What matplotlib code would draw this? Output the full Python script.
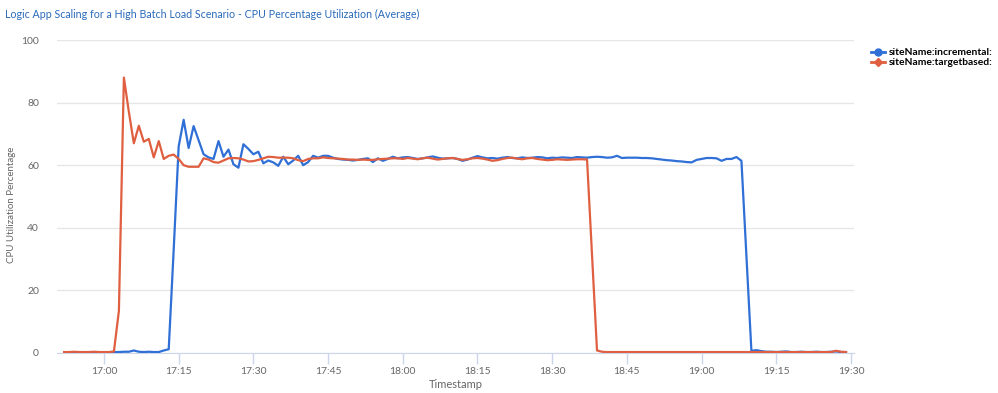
import numpy as np
import pandas as pd
import matplotlib
matplotlib.use("Agg")
import matplotlib.pyplot as plt
import matplotlib.dates as mdates
from matplotlib.lines import Line2D

# =============================================================================
# DATOS (una muestra por minuto, desde las 16:52)
# =============================================================================
INICIO = "2023-01-01 16:52"

incremental = [
    0.2, 0.2, 0.2, 0.2, 0.2, 0.2, 0.2, 0.2, 0.2, 0.2,          # 16:52-17:01
    0.3, 0.3, 0.4, 0.4, 0.8, 0.4, 0.3, 0.4, 0.3, 0.3, 0.8,     # 17:02-17:12
    1.2, 33.0, 66.0, 74.5, 65.5, 72.5, 68.0, 63.5, 62.5, 62.0, # 17:13-17:22
    67.7, 62.7, 65.0, 60.3, 59.2, 66.7, 65.2, 63.5, 64.3, 60.6,
    61.5, 60.9, 59.8, 62.7, 60.3, 61.5, 63.0, 60.0, 61.0, 63.0,
    62.4, 63.0, 63.0, 62.4, 62.0, 61.8, 61.7, 61.5, 61.7, 62.0,
    62.2, 61.0, 62.2, 61.4, 62.0, 62.7, 62.2,                  # ...-17:59
    62.5, 62.6, 62.3, 62.0, 62.2, 62.5, 62.8, 62.4, 62.1, 62.2,
    62.3, 62.0, 61.4, 61.8, 62.4, 62.9, 62.5, 62.2, 62.3, 62.1,
    62.4, 62.6, 62.3, 62.2, 62.5, 62.3, 62.4, 62.6, 62.5, 62.2,
    62.4, 62.3, 62.5, 62.4, 62.3, 62.6, 62.5, 62.4,            # 18:00-18:37
    62.6, 62.7, 62.6, 62.4, 62.5, 63.0, 62.3, 62.4, 62.4, 62.4,
    62.3, 62.3, 62.2, 62.0, 61.8, 61.6, 61.5, 61.3, 61.2, 61.0,
    60.9, 61.7, 62.0, 62.3, 62.3, 62.2, 61.4, 62.0, 62.0, 62.6,
    61.4,                                                      # 18:38-19:08
    31.0, 0.7, 0.9, 0.6, 0.4, 0.4, 0.3, 0.4, 0.5, 0.3,
    0.3, 0.4, 0.3, 0.3, 0.4, 0.3, 0.3, 0.4, 0.5, 0.3, 0.3,    # 19:09-19:29
]

targetbased = [
    0.3, 0.3, 0.4, 0.3, 0.3, 0.3, 0.4, 0.3, 0.3, 0.3,          # 16:52-17:01
    0.5, 13.5, 88.0, 77.0, 67.0, 72.6, 67.5, 68.4, 62.5, 67.7, # 17:02-17:11
    62.0, 63.0, 63.4, 62.0, 60.0, 59.5, 59.5, 59.5, 62.2, 61.8,
    61.0, 60.8, 61.5, 62.2, 62.3, 62.2, 61.8, 61.2, 61.3, 61.7,
    62.2, 62.7, 62.6, 62.4, 62.4, 62.4, 62.2, 61.6, 61.3, 62.0,
    62.2, 62.2, 62.5, 62.3, 62.2, 62.1, 62.0, 61.8, 61.8, 61.7,
    61.8, 61.7, 61.7, 61.9, 62.0, 62.1, 62.2, 62.2,            # ...-17:59
    62.0, 62.3, 62.1, 61.9, 62.2, 62.4, 62.1, 61.8, 62.0, 62.2,
    62.3, 62.0, 61.7, 61.9, 62.2, 62.3, 62.1, 61.8, 61.4, 61.6,
    62.0, 62.3, 62.4, 62.1, 61.9, 62.2, 62.3, 62.0, 61.8, 61.6,
    61.7, 61.9, 61.8, 61.7, 61.8, 61.9, 61.9, 61.8,            # 18:00-18:37
    31.0, 0.8,                                                 # 18:38-18:39
    0.4, 0.3, 0.3, 0.3, 0.3, 0.3, 0.3, 0.3, 0.3, 0.3,
    0.3, 0.3, 0.3, 0.3, 0.3, 0.3, 0.3, 0.3, 0.3, 0.3,
    0.3, 0.3, 0.3, 0.3, 0.3, 0.3, 0.3, 0.3, 0.3, 0.3,
    0.3, 0.3, 0.3, 0.3, 0.3, 0.3, 0.3, 0.3, 0.3, 0.3,
    0.3, 0.3, 0.3, 0.3, 0.3, 0.3, 0.3, 0.7, 0.4, 0.3,          # 18:40-19:29
]

SERIES = ["siteName:incremental:", "siteName:targetbased:"]
COLORES = ["#2f6fd6", "#df5f40"]

TITULO = "Logic App Scaling for a High Batch Load Scenario - CPU Percentage Utilization (Average)"

# =============================================================================
# GRAFICO
# =============================================================================
plt.rcParams["font.family"] = ["Lato", "DejaVu Sans"]

tiempos = pd.date_range(INICIO, periods=len(incremental), freq="min")
tiempos_t = pd.date_range(INICIO, periods=len(targetbased), freq="min")

fig = plt.figure(figsize=(9.98, 3.93), dpi=100)
ax = fig.add_axes([0.0571, 0.1018, 0.7986, 0.7964])

ax.plot(tiempos, incremental, color=COLORES[0], lw=1.6, zorder=3)
ax.plot(tiempos_t, targetbased, color=COLORES[1], lw=1.6, zorder=4)

ax.set_ylim(0, 100)
ax.set_yticks([0, 20, 40, 60, 80, 100])
ax.set_xlim(pd.Timestamp("2023-01-01 16:50:34"), pd.Timestamp("2023-01-01 19:30:36"))
ax.xaxis.set_major_locator(mdates.MinuteLocator(byminute=[0, 15, 30, 45]))
ax.xaxis.set_major_formatter(mdates.DateFormatter("%H:%M"))

ax.grid(axis="y", color="#e6e6e6", lw=1)
ax.set_axisbelow(True)
for lado in ["top", "right", "left"]:
    ax.spines[lado].set_visible(False)
ax.spines["bottom"].set_color("#ccd6eb")
ax.tick_params(axis="x", colors="#ccd6eb", labelcolor="#666666", labelsize=7.5,
               length=8, width=1, pad=2)
ax.tick_params(axis="y", length=0, labelcolor="#666666", labelsize=7.5, pad=13)

ax.set_xlabel("Timestamp", color="#666666", fontsize=8, labelpad=2)
ax.set_ylabel("CPU Utilization Percentage", color="#666666", fontsize=7)
ax.yaxis.set_label_coords(-0.052, 0.473)

fig.text(0.005, 0.962, TITULO, color="#2a6ab9", fontsize=7.7, ha="left", va="center")

handles = [
    Line2D([], [], color=COLORES[0], lw=2, marker="o", markersize=5),
    Line2D([], [], color=COLORES[1], lw=2, marker="D", markersize=4),
]
leg = fig.legend(handles, SERIES, loc="upper left", bbox_to_anchor=(0.873, 0.878),
                 frameon=False, handlelength=1.3, handletextpad=0.4,
                 labelspacing=0.1, borderaxespad=0, borderpad=0,
                 prop={"weight": "bold", "size": 7.4})

fig.savefig("out.png", dpi=100)
